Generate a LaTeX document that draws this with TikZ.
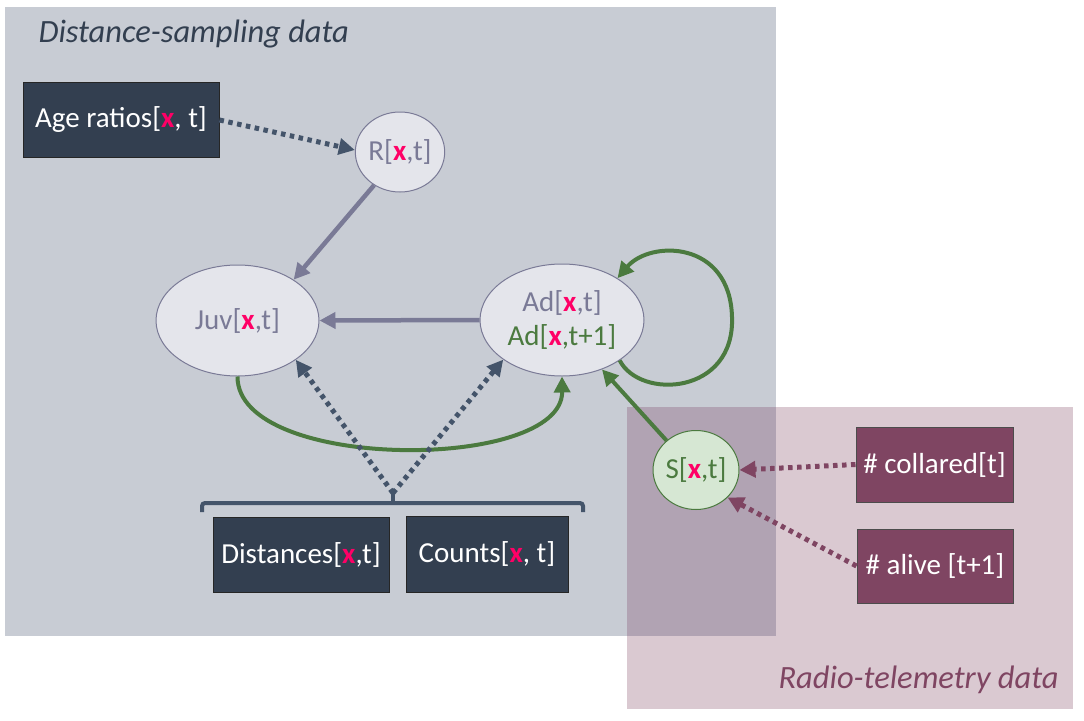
\documentclass[tikz,border=0pt]{standalone}
\usepackage{fontspec}
\setmainfont{Carlito}
\usetikzlibrary{arrows.meta,shapes.geometric}
\definecolor{bggray}{HTML}{C8CCD4}
\definecolor{bgpink}{HTML}{DAC9D1}
\definecolor{bgover}{HTML}{B1A3B3}
\definecolor{navy}{HTML}{333F50}
\definecolor{slate}{HTML}{44546A}
\definecolor{xmag}{HTML}{FF0066}
\definecolor{gpurp}{HTML}{7A7A96}
\definecolor{nodefill}{HTML}{E4E5EB}
\definecolor{grn}{HTML}{4B7A3F}
\definecolor{sfill}{HTML}{D6E7D3}
\definecolor{plum}{HTML}{7F4562}
\newcommand{\xx}{\textcolor{xmag}{\textbf{x}}}
\begin{document}
\begin{tikzpicture}[x=1pt,y=-1pt,
  txt/.style={font=\fontsize{29}{32}\selectfont},
  ttl/.style={font=\fontsize{32.5}{36}\selectfont\itshape},
  databox/.style={txt,draw=black!85,line width=1pt,fill=navy,text=white,inner sep=0pt,rectangle},
  telebox/.style={txt,draw=black!70,line width=1pt,fill=plum,text=white,inner sep=0pt,rectangle},
  latent/.style={txt,ellipse,draw=gpurp,line width=1pt,fill=nodefill,text=gpurp,inner sep=0pt},
  tip/.style={-{Triangle[length=16pt,width=16pt]}},
  solidg/.style={tip,draw=gpurp,line width=4.5pt},
  greenarr/.style={tip,draw=grn,line width=4pt},
  dotarr/.style={tip,line width=5pt,dash pattern=on 4.5pt off 4.5pt},
]
\useasboundingbox (0,0) rectangle (1084,720);
\fill[white] (0,0) rectangle (1084,720);
% backgrounds
\fill[bggray] (5,7) rectangle (776,636);
\fill[bgpink] (627,407) rectangle (1073,709);
\fill[bgover] (627,407) rectangle (776,636);
\node[ttl,text=navy,anchor=west] (t1) at (35,34) {Distance-sampling data};
\node[ttl,text=plum,anchor=east] (t2) at (1062,680) {Radio-telemetry data};
% data boxes
\node[databox,minimum width=196pt,minimum height=75pt] (age) at (121,119.5) {Age ratios[\xx, t]};
\node[databox,minimum width=176pt,minimum height=75pt] (dist) at (301,554.5) {Distances[\xx,t]};
\node[databox,minimum width=162pt,minimum height=76pt] (cnt) at (487,554) {Counts[\xx, t]};
\node[telebox,minimum width=157pt,minimum height=75pt] (col) at (934.5,464.5) {\# collared[t]};
\node[telebox,minimum width=156pt,minimum height=74pt] (alive) at (935,566) {\# alive [t+1]};
% latent nodes
\node[latent,minimum width=86pt,minimum height=80pt] (R) at (400,152) {R[\xx,t]};
\node[latent,minimum width=163pt,minimum height=111pt] (Juv) at (237.5,320.5) {Juv[\xx,t]};
\node[latent,minimum width=164pt,minimum height=112pt,align=center] (Ad) at (562,320)
  {Ad[\xx,t]\\[2pt]\textcolor{grn}{Ad[\xx,t+1]}};
\node[latent,minimum width=85pt,minimum height=79pt,fill=sfill,draw=grn,text=grn] (S) at (696,470) {S[\xx,t]};
% brace
\coordinate (bc) at (393,493);
\draw[slate,line width=4pt,rounded corners=3pt] (202,512) -- (202,503) -- (583,503) -- (583,512);
\draw[slate,line width=4pt] (393,503) -- (bc);
% connectors
\draw[dotarr,slate] (age.east |- 0,120) -- (R.west |- 0,150);
\draw[solidg] (R.232) -- (Juv.36);
\draw[solidg] (Ad.west) -- (Juv.east);
\draw[greenarr] (Juv.south) .. controls (237,472) and (563,472) .. (Ad.south);
\draw[greenarr] (Ad.-35) .. controls (640,400) and (735,395) .. (732,317)
  .. controls (730,240) and (650,240) .. (Ad.37);
\draw[greenarr] (S.135) -- (Ad.-51);
\draw[dotarr,slate] (bc) -- (Juv.-34);
\draw[dotarr,slate] (bc) -- (Ad.214);
\draw[dotarr,plum] (col.west) -- (S.east);
\draw[dotarr,plum] (alive.west) -- (S.-41);
\end{tikzpicture}
\end{document}
